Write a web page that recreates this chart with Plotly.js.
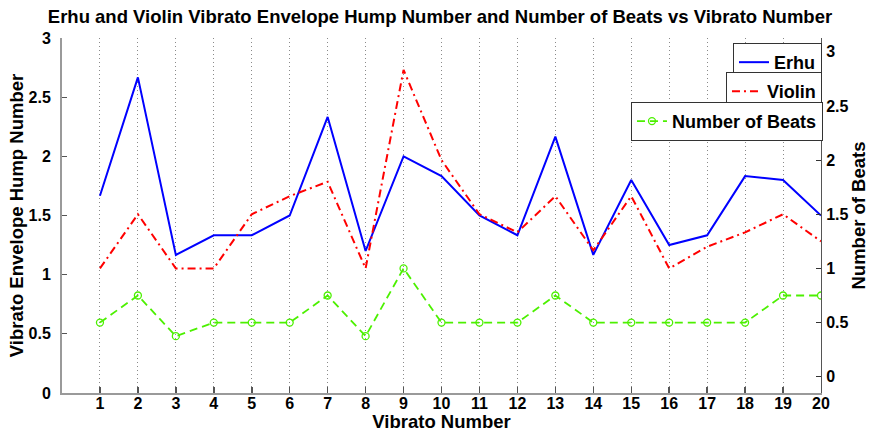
<!DOCTYPE html>
<html>
<head>
<meta charset="utf-8">
<script src="https://cdn.plot.ly/plotly-3.0.1.min.js"></script>
<style>html,body{margin:0;padding:0;background:#fff;}#chart{width:869px;height:432px;}</style>
</head>
<body>
<div id="chart"></div>
<script>
const vibratoNumber = [1,2,3,4,5,6,7,8,9,10,11,12,13,14,15,16,17,18,19,20];
const erhuHumps = [1.667,2.667,1.167,1.333,1.333,1.5,2.333,1.2,2.0,1.833,1.5,1.333,2.167,1.167,1.8,1.25,1.333,1.833,1.8,1.5];
const violinHumps = [1.0,1.5,1.0,1.0,1.5,1.667,1.8,1.0,2.833,2.0,1.5,1.333,1.667,1.167,1.667,1.0,1.2,1.333,1.5,1.25];
const numberOfBeats = [0.5,0.75,0.375,0.5,0.5,0.5,0.75,0.375,1.0,0.5,0.5,0.5,0.75,0.5,0.5,0.5,0.5,0.5,0.75,0.75];
const leftTicks = [0,0.5,1,1.5,2,2.5,3];
const rightTicks = [0,0.5,1,1.5,2,2.5,3];

const FONT = 'Liberation Sans, Arial, sans-serif';
const traces = [
  {x: vibratoNumber, y: erhuHumps, name: 'Erhu', type: 'scatter', mode: 'lines',
   line: {color: '#0000ff', width: 2}, yaxis: 'y', legend: 'legend'},
  {x: vibratoNumber, y: violinHumps, name: 'Violin', type: 'scatter', mode: 'lines',
   line: {color: '#ff0000', width: 2, dash: '8px,4px,2px,4px'}, yaxis: 'y2', legend: 'legend2'},
  {x: vibratoNumber, y: numberOfBeats, name: 'Number of Beats', type: 'scatter', mode: 'lines+markers',
   line: {color: '#4cf000', width: 1.8, dash: '8px,5px'},
   marker: {symbol: 'circle-open', size: 7, color: '#4cf000', line: {width: 1.3}},
   yaxis: 'y2', legend: 'legend3'}
];

const legBase = {
  xref: 'paper', yref: 'paper', xanchor: 'right', yanchor: 'top',
  bgcolor: '#ffffff', bordercolor: '#333333', borderwidth: 1,
  font: {family: FONT, size: 18, weight: 'bold', color: '#000'},
  tracegroupgap: 0, itemwidth: 30
};

const layout = {
  width: 869, height: 432,
  margin: {l: 62, r: 48, t: 38, b: 39},
  paper_bgcolor: '#ffffff', plot_bgcolor: '#ffffff',
  font: {family: FONT, size: 16, color: '#000', weight: 'bold'},
  title: {text: 'Erhu and Violin Vibrato Envelope Hump Number and Number of Beats vs Vibrato Number',
          font: {family: FONT, size: 18.5, weight: 'bold', color: '#000'},
          x: 0.5063, xref: 'container', xanchor: 'center', y: 0.961, yref: 'container', yanchor: 'middle'},
  showlegend: true,
  legend: Object.assign({}, legBase, {x: 1.0013, y: 0.986}),
  legend2: Object.assign({}, legBase, {x: 1.0013, y: 0.904}),
  legend3: Object.assign({}, legBase, {x: 1.0026, y: 0.820}),
  xaxis: {
    range: [0, 20], tickvals: vibratoNumber, ticks: 'inside', ticklen: 6, tickcolor: '#555', tickwidth: 1.5,
    showgrid: true, gridcolor: '#8a8a8a', griddash: '1px,3px', gridwidth: 1,
    zeroline: false, showline: true, linecolor: '#9a9a9a', linewidth: 2,
    ticklabelstandoff: -5,
    tickfont: {family: FONT, size: 16, weight: 'bold'},
    title: {text: 'Vibrato Number', font: {family: FONT, size: 18.5, weight: 'bold'}, standoff: 0}
  },
  yaxis: {
    range: [0, 3], tickvals: leftTicks, ticks: 'inside', ticklen: 5, tickcolor: '#555',
    showgrid: false, zeroline: false, showline: true, linecolor: '#9a9a9a', linewidth: 2,
    ticklabelstandoff: 6,
    tickfont: {family: FONT, size: 16, weight: 'bold'},
    title: {text: 'Vibrato Envelope Hump Number', font: {family: FONT, size: 18.5, weight: 'bold'}, standoff: 0}
  },
  yaxis2: {
    overlaying: 'y', side: 'right', range: [-0.15, 3.127], tickvals: rightTicks,
    ticks: 'inside', ticklen: 5, tickcolor: '#333',
    showgrid: false, zeroline: false, showline: true, linecolor: '#555', linewidth: 1,
    ticklabelstandoff: 1,
    tickfont: {family: FONT, size: 16, weight: 'bold'},
    title: {text: 'Number of Beats', font: {family: FONT, size: 18.5, weight: 'bold'}, standoff: 4}
  }
};

Plotly.newPlot('chart', traces, layout, {displayModeBar: false, staticPlot: true});
</script>
</body>
</html>
